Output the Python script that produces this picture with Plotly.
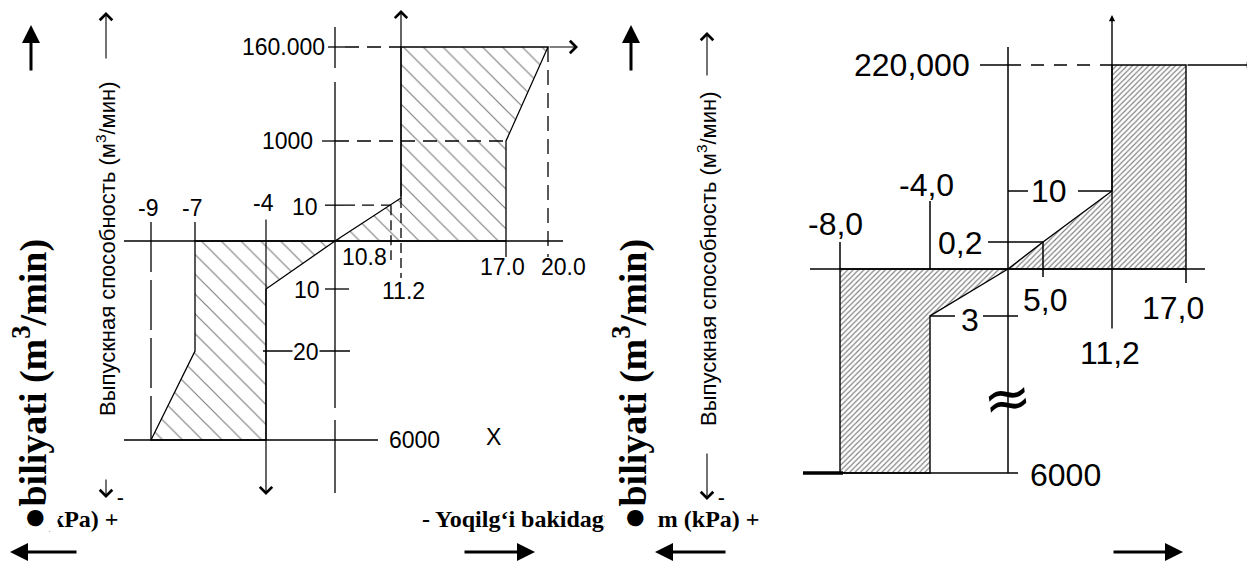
import numpy as np
import plotly.graph_objects as go

# ======================= DATA =======================
# Left diagram: tank pressure (kPa) vs. outlet capacity (m3/min)
L_P_NEG = [-9, -7, -4]
L_P_NEG_TXT = ["-9", "-7", "-4"]
L_P_POS = [10.8, 11.2, 17.0, 20.0]
L_P_POS_TXT = ["10.8", "11.2", "17.0", "20.0"]
L_Q_UP = [10, 1000, 160000]
L_Q_UP_TXT = ["10", "1000", "160.000"]
L_Q_DN = [10, 20, 6000]
L_Q_DN_TXT = ["10", "20", "6000"]
L_OUT_P = [0, 10.8, 11.2, 11.2, 20.0, 17.0, 17.0, 0]
L_OUT_Q = [0, 10, 12, 160000, 160000, 1000, 0, 0]
L_IN_P = [0, -7, -7, -9, -4, -4, 0]
L_IN_Q = [0, 0, -20, -6000, -6000, -10, 0]

# Right diagram
R_P_NEG = [-8.0, -4.0]
R_P_NEG_TXT = ["-8,0", "-4,0"]
R_P_POS = [5.0, 11.2, 17.0]
R_P_POS_TXT = ["5,0", "11,2", "17,0"]
R_Q_UP = [0.2, 10, 220000]
R_Q_UP_TXT = ["0,2", "10", "220,000"]
R_Q_DN = [3, 6000]
R_Q_DN_TXT = ["3", "6000"]
R_OUT_P = [0, 5.0, 11.2, 11.2, 17.0, 17.0, 0]
R_OUT_Q = [0, 0.2, 10, 220000, 220000, 0, 0]
R_IN_P = [0, -8.0, -8.0, -4.0, -4.0, 0]
R_IN_Q = [0, 0, -6000, -6000, -3, 0]

Y_TITLE_RU = "Выпускная способность (м<sup>3</sup>/мин)"
Y_TITLE_UZ = "<b>●biliyati (m<sup>3</sup>/min)</b>"
X_TITLE_UZ = "<b>- Yoqilg‘i bakidagi bosim (kPa) +</b>"

# ================= SCHEMATIC SCALES (non-linear drawing axes) =================
L_XK = [-9, -7, -4, 0, 10.8, 11.2, 17, 20]
L_XS = [151, 195, 266, 335, 391, 401, 506, 548]
L_YK = [-6000, -20, -10, 0, 12, 1000, 160000]
L_YS = [440, 351, 289, 241, 198, 141, 47]
R_XK = [-8, -4, 0, 5, 11.2, 17]
R_XS = [840, 930, 1008, 1043, 1112, 1186]
R_YK = [-6000, -3, 0, 0.2, 10, 220000]
R_YS = [473, 316, 269, 242, 191, 65]


def lx(v):
    return np.interp(v, L_XK, L_XS)


def ly(v):
    return np.interp(v, L_YK, L_YS)


def rx(v):
    return np.interp(v, R_XK, R_XS)


def ry(v):
    return np.interp(v, R_YK, R_YS)


W, H = 1255, 561
OFF = 8  # page body margin compensation
SANS = "Liberation Sans, Arial, sans-serif"
SERIF = "Liberation Serif, Times New Roman, serif"

fig = go.Figure()
shapes = []
ann = []


def seg(x0, y0, x1, y1, dash="solid", width=1.3):
    shapes.append(dict(type="line", xref="x", yref="y", x0=float(x0), y0=float(y0),
                       x1=float(x1), y1=float(y1),
                       line=dict(color="black", width=width, dash=dash)))


def txt(x, y, s, size, xa="center", font=SANS, ya="middle", angle=0, bg=None, pad=0):
    d = dict(x=float(x), y=float(y), xref="x", yref="y", text=s, showarrow=False,
             xanchor=xa, yanchor=ya, textangle=angle,
             font=dict(family=font, size=size, color="black"))
    if bg:
        d["bgcolor"] = bg
        d["borderpad"] = pad
    ann.append(d)


def arrow(x0, y0, x1, y1, head=2, width=1.0, size=1.0):
    ann.append(dict(x=float(x1), y=float(y1), ax=float(x0), ay=float(y0), xref="x", yref="y",
                    axref="x", ayref="y", text="", showarrow=True, arrowhead=head,
                    arrowwidth=width, arrowsize=size, arrowcolor="black"))


def hatch(xs, ys, shape, size, solidity, lw):
    fig.add_trace(go.Scatter(x=xs, y=ys, mode="lines", fill="toself",
                             fillcolor="white", line=dict(color="black", width=lw),
                             fillpattern=dict(shape=shape, size=size, solidity=solidity,
                                              fgcolor="black", bgcolor="white"),
                             hoverinfo="skip", showlegend=False))


# ---------------- hatched regions ----------------
hatch(lx(L_OUT_P), ly(L_OUT_Q), "\\", 14, 0.085, 1.3)
hatch(lx(L_IN_P), ly(L_IN_Q), "\\", 14, 0.085, 1.3)
hatch(rx(R_OUT_P), ry(R_OUT_Q), "/", 3.8, 0.3, 1.4)
hatch(rx(R_IN_P), ry(R_IN_Q), "/", 3.8, 0.3, 1.4)

# ---------------- left diagram lines ----------------
X0, Y0 = lx(0), ly(0)
seg(124, Y0, 563, Y0)                       # pressure axis
for a, b in [(27, 68), (82, 408), (420, 493)]:
    seg(X0, a, X0, b)                       # capacity axis
yt = ly(L_Q_UP[2])
seg(X0 - 7, yt, X0 + 10, yt)
seg(X0 + 10, yt, lx(11.2), yt, dash="14px,8px")
arrow(lx(20), yt, 578, yt, head=4, width=1.2, size=2.0)
y1000 = ly(L_Q_UP[1])
seg(X0 - 13, y1000, X0, y1000)
seg(X0, y1000, lx(17), y1000, dash="14px,8px")
y10 = ly(L_Q_UP[0])
seg(X0 - 10, y10, X0 + 8, y10)
seg(X0 + 8, y10, lx(10.8), y10, dash="12px,7px")
seg(lx(10.8), y10, lx(10.8), Y0 + 19, dash="10px,5px")
arrow(lx(11.2), ly(12), lx(11.2), 10, head=4, width=1.2, size=2.0)
seg(lx(11.2), ly(12), lx(11.2), Y0 + 37, dash="10px,5px")
seg(lx(17), Y0, lx(17), Y0 + 16)
seg(lx(20), yt, lx(20), Y0 + 16, dash="15px,8px")
seg(lx(-9), Y0 - 19, lx(-9), ly(-6000), dash="50px,8px")
seg(lx(-7), Y0 - 19, lx(-7), Y0)
arrow(lx(-4), Y0 - 23, lx(-4), 495, head=4, width=1.2, size=2.0)
seg(X0 - 10, ly(-10), X0 + 14, ly(-10))
seg(lx(-4) - 3, ly(-20), X0 + 15, ly(-20))
seg(124, ly(-6000), 378, ly(-6000))

# labels left
txt(X0 - 8, yt, L_Q_UP_TXT[2], 23, xa="right")
txt(X0 - 20, y1000, L_Q_UP_TXT[1], 23, xa="right")
txt(X0 - 15, y10 + 2, L_Q_UP_TXT[0], 23, xa="right")
for v, s, dy in zip(L_P_NEG, L_P_NEG_TXT, [-33, -33, -38]):
    txt(lx(v) - 3, Y0 + dy, s, 23)
txt(X0 + 5, Y0 + 16, L_P_POS_TXT[0], 23, xa="left")
txt(lx(11.2) + 2, Y0 + 50, L_P_POS_TXT[1], 23)
txt(lx(17) - 4, Y0 + 26, L_P_POS_TXT[2], 23)
txt(lx(20) + 15, Y0 + 26, L_P_POS_TXT[3], 23)
txt(X0 - 13, ly(-10) + 1, L_Q_DN_TXT[0], 23, xa="right")
txt(X0 - 29, ly(-20) + 1, L_Q_DN_TXT[1], 23, bg="white")
txt(387, ly(-6000), L_Q_DN_TXT[2], 23, xa="left")
txt(493, ly(-6000) - 3, "X", 23)

# ---------------- right diagram lines ----------------
RX0, RY0 = rx(0), ry(0)
seg(RX0, 47, RX0, ry(-6000), width=1.5)
seg(810, RY0, 1205, RY0, width=1.5)
arrow(rx(11.2), 330, rx(11.2), 15, head=2, width=1.4, size=0.9)
ytop = ry(R_Q_UP[2])
seg(980, ytop, RX0, ytop, width=1.5)
seg(RX0, ytop, rx(11.2), ytop, dash="13px,10px", width=1.5)
arrow(rx(17), ytop, 1253, ytop, head=2, width=1.4, size=0.9)
seg(rx(-8), RY0 - 27, rx(-8), RY0, width=1.5)
seg(rx(-4), RY0 - 68, rx(-4), RY0, width=1.5)
y10r = ry(R_Q_UP[1])
seg(RX0, y10r, RX0 + 20, y10r, width=1.5)
seg(RX0 + 70, y10r, rx(11.2), y10r, width=1.5)
y02 = ry(R_Q_UP[0])
seg(988, y02, rx(5), y02, width=1.5)
seg(rx(5), y02, rx(5), RY0 + 8, width=1.5)
y3 = ry(-3)
seg(rx(-4), y3, rx(-4) + 25, y3, width=1.5)
seg(983, y3, RX0 + 10, y3, width=1.5)
seg(rx(17), RY0, rx(17), RY0 + 14, width=1.5)
yb = ry(-6000)
seg(803, yb, RX0 + 10, yb, width=1.5)
seg(803, yb, 843, yb, width=3.5)

# labels right
txt(972, ytop, R_Q_UP_TXT[2], 32, xa="right")
txt(rx(-8) - 5, RY0 - 45, R_P_NEG_TXT[0], 32)
txt(rx(-4) - 4, RY0 - 84, R_P_NEG_TXT[1], 32)
txt(RX0 + 41, y10r, R_Q_UP_TXT[1], 32)
txt(960, y02 + 1, R_Q_UP_TXT[0], 32)
txt(rx(5) + 2, RY0 + 31, R_P_POS_TXT[0], 32)
txt(rx(11.2) - 2, RY0 + 84, R_P_POS_TXT[1], 32)
txt(rx(17) - 13, RY0 + 39, R_P_POS_TXT[2], 32)
txt(970, y3 + 4, R_Q_DN_TXT[0], 32)
txt(1028, yb + 2, R_Q_DN_TXT[1], 32, xa="left")
txt(RX0 - 1, 398, "≈", 58, font="DejaVu Sans", angle=-8)

# ---------------- outer titles & arrows ----------------
# bottom pressure captions (drawn first, later covered by rotated titles)
txt(121, 519, X_TITLE_UZ, 24, xa="right", font=SERIF)
txt(420, 519, X_TITLE_UZ, 24, xa="left", font=SERIF)

for xc, yc in [(106, 249), (707, 259)]:
    txt(xc, yc, Y_TITLE_RU, 22, angle=-90)
for xc in [31, 631]:
    txt(xc, 532, Y_TITLE_UZ, 38, font=SERIF, angle=-90, ya="bottom", bg="white", pad=1.5)
    arrow(xc, 72, xc, 25, head=2, width=3, size=1.2)
arrow(106, 60, 106, 12, head=4, width=1.1, size=2.2)
arrow(106, 478, 106, 498, head=4, width=1.1, size=2.2)
arrow(707, 77, 707, 32, head=4, width=1.1, size=2.2)
arrow(707, 452, 707, 500, head=4, width=1.1, size=2.2)
txt(120, 497, "<b>-</b>", 20, font=SERIF)
txt(721, 497, "<b>-</b>", 20, font=SERIF)
arrow(78, 552, 10, 552, head=2, width=3, size=1.2)
arrow(463, 552, 535, 552, head=2, width=3, size=1.2)
arrow(727, 552, 655, 552, head=2, width=3, size=1.2)
arrow(1112, 552, 1183, 552, head=2, width=3, size=1.2)

fig.update_layout(
    width=W, height=H, autosize=False,
    margin=dict(l=0, r=0, t=0, b=0, pad=0),
    paper_bgcolor="white", plot_bgcolor="white",
    xaxis=dict(range=[OFF, W + OFF], visible=False, fixedrange=True),
    yaxis=dict(range=[H + OFF, OFF], visible=False, fixedrange=True),
    shapes=shapes, annotations=ann, showlegend=False,
)
fig.write_html("out.html", config={"displayModeBar": False})
